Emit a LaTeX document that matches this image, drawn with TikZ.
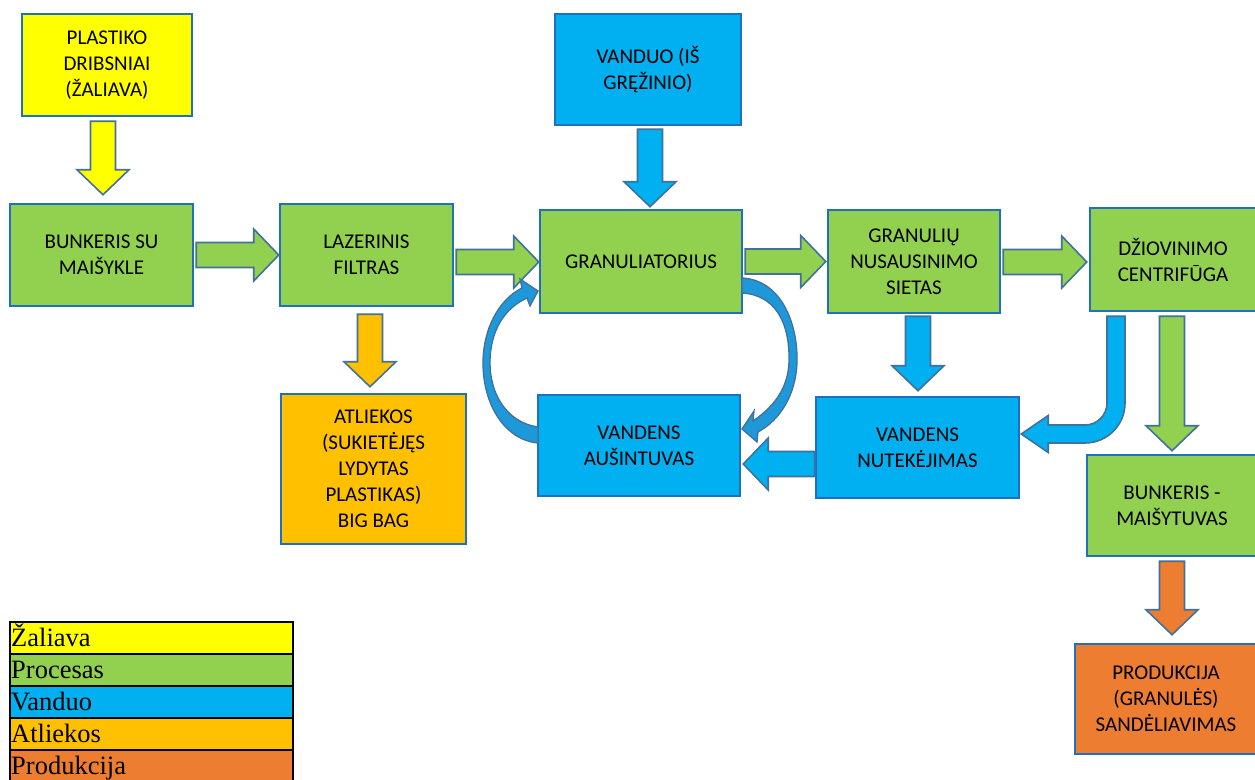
\documentclass[tikz,border=0pt]{standalone}
\usepackage{fontspec}
\setmainfont{Carlito}
\newfontfamily\legfont{Liberation Serif}
\usetikzlibrary{calc}
\definecolor{cyel}{HTML}{FFFF00}
\definecolor{cgreen}{HTML}{92D050}
\definecolor{cblue}{HTML}{00B0F0}
\definecolor{cgold}{HTML}{FFC000}
\definecolor{corange}{HTML}{ED7D31}
\definecolor{cborder}{HTML}{1F70C1}
\definecolor{carrow}{HTML}{41719C}
\definecolor{ccurve}{HTML}{1E98D8}
\begin{document}
\begin{tikzpicture}[x=1pt,y=-1pt,
  box/.style={draw=cborder, line width=2.5pt, align=center, inner sep=0pt,
    font=\fontsize{21}{26}\selectfont},
  legrow/.style={draw=black, line width=2pt, minimum width=283pt, minimum height=32pt, inner sep=0pt},
  legtext/.style={anchor=base west, inner sep=0pt, font=\legfont\fontsize{26.5}{30}\selectfont},
  fatarrow/.style={draw=carrow, line width=1.6pt, line join=miter},
  fatdown/.style={fatarrow, to path={let \p1=(\tikztostart), \p2=(\tikztotarget) in
    (\x1-12.5pt,\y1) -- (\x1-12.5pt,\y2+25pt) -- (\x1-26pt,\y2+25pt) -- (\x1,\y2)
    -- (\x1+26pt,\y2+25pt) -- (\x1+12.5pt,\y2+25pt) -- (\x1+12.5pt,\y1) -- cycle}},
  fatright/.style={fatarrow, to path={let \p1=(\tikztostart), \p2=(\tikztotarget) in
    (\x1,\y1+12.5pt) -- (\x2-25pt,\y1+12.5pt) -- (\x2-25pt,\y1+26pt) -- (\x2,\y1)
    -- (\x2-25pt,\y1-26pt) -- (\x2-25pt,\y1-12.5pt) -- (\x1,\y1-12.5pt) -- cycle}},
  fatleft/.style={fatarrow, to path={let \p1=(\tikztostart), \p2=(\tikztotarget) in
    (\x1,\y1+12.5pt) -- (\x2+25pt,\y1+12.5pt) -- (\x2+25pt,\y1+26pt) -- (\x2,\y1)
    -- (\x2+25pt,\y1-26pt) -- (\x2+25pt,\y1-12.5pt) -- (\x1,\y1-12.5pt) -- cycle}},
  fatbend/.style={fatarrow, to path={let \p1=(\tikztostart), \p2=(\tikztotarget) in
    (\x1+9pt,\y1) -- (\x1+9pt,\y2+31pt) arc[start angle=0, end angle=-90, radius=40pt]
    -- (\x2+27pt,\y2-9pt) -- (\x2+27pt,\y2-18.5pt) -- (\x2,\y2) -- (\x2+27pt,\y2+18.5pt)
    -- (\x2+27pt,\y2+9pt) -- (\x1-31pt,\y2+9pt) arc[start angle=-90, end angle=0, radius=22pt]
    -- (\x1-9pt,\y1) -- cycle}},
  curvearrow/.style={draw=carrow, line width=1.3pt, fill=ccurve, line join=miter}
]
\useasboundingbox (0,0) rectangle (1255,779);
\clip (0,0) rectangle (1255,779);
\fill[white] (0,0) rectangle (1255,779);

% boxes
\node[box, fill=cyel, minimum width=170pt, minimum height=102pt] (plast) at (107,65) {PLASTIKO\\DRIBSNIAI\\(ŽALIAVA)};
\node[box, fill=cgreen, minimum width=183pt, minimum height=102pt] (bunk) at (101.5,255) {BUNKERIS SU\\MAIŠYKLE};
\node[box, fill=cgreen, minimum width=173pt, minimum height=102pt] (laz) at (366.5,255) {LAZERINIS\\FILTRAS};
\node[box, fill=cblue, minimum width=186pt, minimum height=111pt] (vand) at (648,69.5) {VANDUO (IŠ\\GRĘŽINIO)};
\node[box, fill=cgreen, minimum width=202pt, minimum height=103pt] (gran) at (641,261.5) {GRANULIATORIUS};
\node[box, fill=cgreen, minimum width=172pt, minimum height=103pt] (siet) at (914,261.5) {GRANULIŲ\\NUSAUSINIMO\\SIETAS};
\node[box, fill=cgreen, minimum width=166pt, minimum height=103pt] (dz) at (1173,259.5) {DŽIOVINIMO\\CENTRIFŪGA};
\node[box, fill=cgold, minimum width=185pt, minimum height=150pt] (atl) at (373.5,469) {ATLIEKOS\\(SUKIETĖJĘS\\LYDYTAS\\PLASTIKAS)\\BIG BAG};
\node[box, fill=cblue, minimum width=202pt, minimum height=101pt] (aus) at (639,445.5) {VANDENS\\AUŠINTUVAS};
\node[box, fill=cblue, minimum width=203pt, minimum height=101pt] (nut) at (917.5,447.5) {VANDENS\\NUTEKĖJIMAS};
\node[box, fill=cgreen, minimum width=170pt, minimum height=101pt] (bm) at (1172,505.5) {BUNKERIS -\\MAIŠYTUVAS};
\node[box, fill=corange, minimum width=182pt, minimum height=110pt] (prod) at (1166,699) {PRODUKCIJA\\(GRANULĖS)\\SANDĖLIAVIMAS};

% straight block arrows
\draw[fatdown, fill=cyel] ($(plast.south)+(-4,4)$) to ($(bunk.north)+(0,-8)$);
\draw[fatright, fill=cgreen] ($(bunk.east)+(2,0)$) to (laz.west);
\draw[fatright, fill=cgreen] ($(laz.east)+(2,7)$) to (gran.west);
\draw[fatdown, fill=cblue] ($(vand.south)+(2,3)$) to ($(gran.north)+(0,-2)$);
\draw[fatright, fill=cgreen] ($(gran.east)+(2,0)$) to ($(siet.west)+(-1,0)$);
\draw[fatright, fill=cgreen] ($(siet.east)+(2,0.5)$) to ($(dz.west)+(-2,0)$);
\draw[fatdown, fill=cgold] ($(laz.south)+(3.5,7)$) to ($(atl.north)+(0,-6)$);
\draw[fatdown, fill=cblue] ($(siet.south)+(4,2)$) to ($(nut.north)+(0,-5)$);
\draw[fatdown, fill=cgreen] ($(dz.south)+(-1,4)$) to ($(bm.north)+(0,-3)$);
\draw[fatdown, fill=corange] ($(bm.south)+(0,4)$) to ($(prod.north)+(0,-8)$);
\draw[fatleft, fill=cblue] ($(nut.west)+(0,16.5)$) to ($(aus.east)+(2,0)$);
\draw[fatbend, fill=cblue] ($(dz.south)+(-57,4)$) to ($(nut.east)+(1,-13.5)$);

% curved arrows (cooling loop)
\draw[curvearrow] (538,427) .. controls (505,422) and (490,392) .. (490,363)
  .. controls (490,330) and (505,308) .. (527,298) -- (530,306) -- (538,291)
  -- (520,279) -- (522,288) .. controls (498,300) and (483,330) .. (483,363)
  .. controls (483,405) and (505,440) .. (538,443) -- cycle;
\draw[curvearrow] (742,278) .. controls (782,280) and (798,325) .. (797,362)
  .. controls (796,395) and (780,420) .. (758,432) -- (757,442) -- (742,429)
  -- (754,411) -- (753,421) .. controls (772,408) and (788,390) .. (789,362)
  .. controls (790,322) and (775,295) .. (742,293) -- cycle;

% legend
\node[legrow, fill=cyel] (l1) at (151.5,638) {};
\node[legrow, fill=cgreen] (l2) at (151.5,670) {};
\node[legrow, fill=cblue] (l3) at (151.5,702) {};
\node[legrow, fill=cgold] (l4) at (151.5,734) {};
\node[legrow, fill=corange] (l5) at (151.5,766) {};
\node[legtext] (t1) at ($(l1.south west)+(2,-9)$) {Žaliava};
\node[legtext] (t2) at ($(l2.south west)+(2,-9)$) {Procesas};
\node[legtext] (t3) at ($(l3.south west)+(2,-9)$) {Vanduo};
\node[legtext] (t4) at ($(l4.south west)+(2,-9)$) {Atliekos};
\node[legtext] (t5) at ($(l5.south west)+(2,-9)$) {Produkcija};
\end{tikzpicture}
\end{document}
